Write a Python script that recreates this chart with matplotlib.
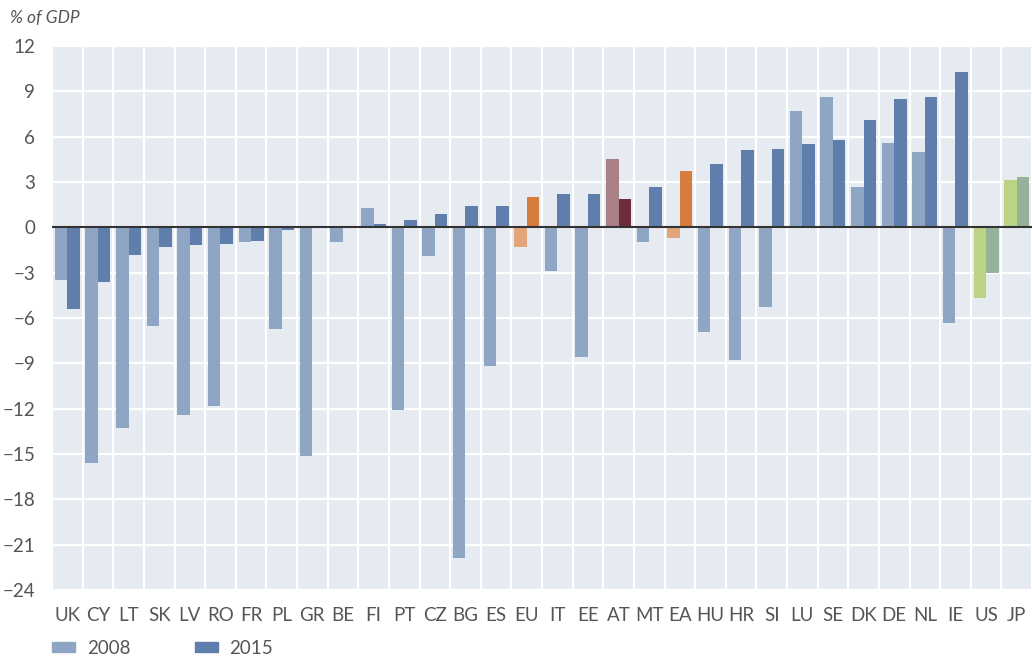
import matplotlib.pyplot as plt
import matplotlib.patches as mpatches
import numpy as np

# Current account balance, % of GDP
countries = ['UK', 'CY', 'LT', 'SK', 'LV', 'RO', 'FR', 'PL', 'GR', 'BE',
             'FI', 'PT', 'CZ', 'BG', 'ES', 'EU', 'IT', 'EE', 'AT', 'MT',
             'EA', 'HU', 'HR', 'SI', 'LU', 'SE', 'DK', 'DE', 'NL', 'IE',
             'US', 'JP']
val_2008 = [-3.5, -15.6, -13.3, -6.5, -12.4, -11.8, -1.0, -6.7, -15.1, -1.0,
            1.3, -12.1, -1.9, -21.9, -9.2, -1.3, -2.9, -8.6, 4.5, -1.0,
            -0.7, -6.9, -8.8, -5.3, 7.7, 8.6, 2.7, 5.6, 5.0, -6.3,
            -4.7, 3.1]
val_2015 = [-5.4, -3.6, -1.8, -1.3, -1.2, -1.1, -0.9, -0.2, 0.0, 0.0,
            0.2, 0.5, 0.9, 1.4, 1.4, 2.0, 2.2, 2.2, 1.9, 2.7,
            3.7, 4.2, 5.1, 5.2, 5.5, 5.8, 7.1, 8.5, 8.6, 10.3,
            -3.0, 3.3]

# colours: default blue, EU/EA orange, AT maroon, US/JP green
c08 = {'default': '#8fa5c4', 'EU': '#e3a47a', 'EA': '#e3a47a', 'AT': '#a88086',
       'US': '#bcd285', 'JP': '#bcd285'}
c15 = {'default': '#5f7eab', 'EU': '#d67c3e', 'EA': '#d67c3e', 'AT': '#6b2d3f',
       'US': '#94b39a', 'JP': '#94b39a'}

plt.rcParams['font.family'] = ['Lato', 'DejaVu Sans']
txt = '#555555'

fig = plt.figure(figsize=(10.32, 6.59), dpi=100)
ax = fig.add_axes([52 / 1032, 69 / 659, 980 / 1032, 544 / 659])
ax.set_facecolor('#e6ebf2')

x = np.arange(len(countries))
w = 0.41
cols08 = [c08.get(c, c08['default']) for c in countries]
cols15 = [c15.get(c, c15['default']) for c in countries]
ax.bar(x - w / 2, val_2008, w, color=cols08, zorder=3)
ax.bar(x + w / 2, val_2015, w, color=cols15, zorder=3)

ax.set_xlim(-0.5, len(countries) - 0.5)
ax.set_ylim(-24, 12)
ax.set_yticks(np.arange(-24, 13, 3))
ax.set_yticklabels([str(v).replace('-', '\u2212') for v in range(-24, 13, 3)])
ax.set_xticks(x)
ax.set_xticklabels(countries)
ax.set_xticks(np.arange(-0.5, len(countries), 1), minor=True)

ax.grid(axis='y', which='major', color='white', lw=1.5, zorder=1)
ax.grid(axis='x', which='minor', color='white', lw=1.5, zorder=1)
ax.axhline(0, color='#333333', lw=1.5, zorder=4)

for s in ax.spines.values():
    s.set_visible(False)
ax.tick_params(axis='both', which='both', length=0, colors=txt, labelsize=13.5)
ax.tick_params(axis='x', pad=12)
ax.tick_params(axis='y', pad=12)

fig.text(10 / 1032, 1 - 18 / 659, '% of GDP', fontsize=12.5, style='italic',
         color=txt, va='center', ha='left')

handles = [mpatches.Patch(color=c08['default'], label='2008'),
           mpatches.Patch(color=c15['default'], label='2015')]
fig.legend(handles=handles, loc='center left',
           bbox_to_anchor=(52 / 1032, 1 - 648 / 659), borderpad=0,
           borderaxespad=0,
           ncol=2, frameon=False, fontsize=13.5, labelcolor=txt,
           handlelength=1.25, handleheight=0.5, columnspacing=3.45,
           handletextpad=0.6)

fig.savefig('out.png', dpi=100)
